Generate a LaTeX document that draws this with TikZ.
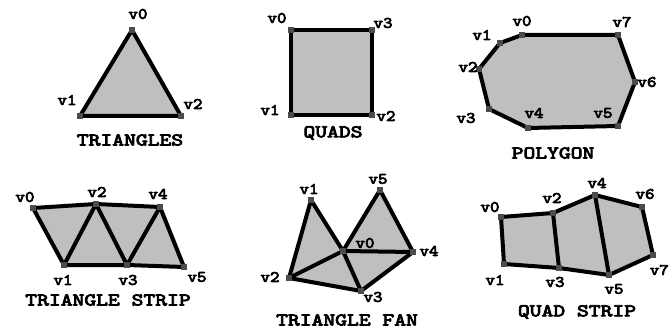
\documentclass[tikz,border=0pt]{standalone}
\usepackage{fontspec}
\usepackage{graphicx}
\newfontfamily\lmtb{lmmono10-regular.otf}[FakeBold=4]
\newcommand{\vl}[1]{\scalebox{1.13}[1]{\lmtb\fontsize{16}{16}\selectfont #1}}
\newcommand{\tl}[1]{\scalebox{1.25}[1]{\lmtb\fontsize{18}{18}\selectfont #1}}
\begin{document}
\begin{tikzpicture}[x=1pt,y=-1pt,
  face/.style={fill=gray!50},
  edge/.style={draw=black,line width=4pt,line join=round},
  vtx/.style={fill=black!70,inner sep=0pt,minimum size=6pt,draw=none,rectangle},
  vlab/.style={inner sep=0pt},
  title/.style={inner sep=0pt}]
\useasboundingbox[fill=white] (0,0) rectangle (669,331);
% ---------- TRIANGLES
\coordinate (a0) at (132,30); \coordinate (a1) at (80,116); \coordinate (a2) at (181,116);
\fill[face] (a0) -- (a1) -- (a2) -- cycle;
\draw[edge] (a0) -- (a1) -- (a2) -- cycle;
\foreach \i in {0,1,2} \node[vtx] (a\i m) at (a\i) {};
\node[vlab] (la0) at (138,14) {\vl{v0}};
\node[vlab] (la1) at (67,100) {\vl{v1}};
\node[vlab] (la2) at (193,104) {\vl{v2}};
\node[title] (ta) at (130,140) {\tl{TRIANGLES}};
% ---------- QUADS
\coordinate (b0) at (291,30); \coordinate (b1) at (291,115); \coordinate (b2) at (372,115); \coordinate (b3) at (372,30);
\fill[face] (b0) -- (b1) -- (b2) -- (b3) -- cycle;
\draw[edge] (b0) -- (b1) -- (b2) -- (b3) -- cycle;
\foreach \i in {0,...,3} \node[vtx] (b\i m) at (b\i) {};
\node[vlab] (lb0) at (277,18) {\vl{v0}};
\node[vlab] (lb1) at (270,110) {\vl{v1}};
\node[vlab] (lb2) at (386,116) {\vl{v2}};
\node[vlab] (lb3) at (383,23) {\vl{v3}};
\node[title] (tb) at (333,133) {\tl{QUADS}};
% ---------- POLYGON
\coordinate (c0) at (522,35); \coordinate (c1) at (500,43); \coordinate (c2) at (479,69);
\coordinate (c3) at (489,109); \coordinate (c4) at (528,128); \coordinate (c5) at (618,126);
\coordinate (c6) at (635,82); \coordinate (c7) at (618,35);
\fill[face] (c0) -- (c1) -- (c2) -- (c3) -- (c4) -- (c5) -- (c6) -- (c7) -- cycle;
\draw[edge] (c0) -- (c1) -- (c2) -- (c3) -- (c4) -- (c5) -- (c6) -- (c7) -- cycle;
\foreach \i in {0,...,7} \node[vtx] (c\i m) at (c\i) {};
\node[vlab] (lc0) at (522,21) {\vl{v0}};
\node[vlab] (lc1) at (482,35) {\vl{v1}};
\node[vlab] (lc2) at (468,67) {\vl{v2}};
\node[vlab] (lc3) at (466,118) {\vl{v3}};
\node[vlab] (lc4) at (534,113) {\vl{v4}};
\node[vlab] (lc5) at (603,113) {\vl{v5}};
\node[vlab] (lc6) at (647,82) {\vl{v6}};
\node[vlab] (lc7) at (622,22) {\vl{v7}};
\node[title] (tc) at (553,153) {\tl{POLYGON}};
% ---------- TRIANGLE STRIP
\coordinate (d0) at (33,208); \coordinate (d1) at (64,265); \coordinate (d2) at (96,204);
\coordinate (d3) at (127,265); \coordinate (d4) at (160,207); \coordinate (d5) at (184,267);
\fill[face] (d0) -- (d2) -- (d4) -- (d5) -- (d3) -- (d1) -- cycle;
\draw[edge] (d0) -- (d2) -- (d4) -- (d5) -- (d3) -- (d1) -- cycle;
\draw[edge] (d1) -- (d2) -- (d3) -- (d4);
\foreach \i in {0,...,5} \node[vtx] (d\i m) at (d\i) {};
\node[vlab] (ld0) at (25,197) {\vl{v0}};
\node[vlab] (ld1) at (63,280) {\vl{v1}};
\node[vlab] (ld2) at (97,192) {\vl{v2}};
\node[vlab] (ld3) at (128,280) {\vl{v3}};
\node[vlab] (ld4) at (158,194) {\vl{v4}};
\node[vlab] (ld5) at (197,277) {\vl{v5}};
\node[title] (td) at (108,300) {\tl{TRIANGLE STRIP}};
% ---------- TRIANGLE FAN
\coordinate (e0) at (343,251); \coordinate (e1) at (311,200); \coordinate (e2) at (289,278);
\coordinate (e3) at (361,291); \coordinate (e4) at (413,252); \coordinate (e5) at (380,190);
\fill[face] (e0) -- (e1) -- (e2) -- (e3) -- (e4) -- (e5) -- cycle;
\draw[edge] (e0) -- (e1) -- (e2) -- (e3) -- (e4) -- (e5) -- cycle;
\draw[edge] (e2) -- (e0) -- (e3);
\draw[edge] (e0) -- (e4);
\foreach \i in {0,...,5} \node[vtx] (e\i m) at (e\i) {};
\node[vlab] (le0) at (365,243) {\vl{v0}};
\node[vlab] (le1) at (309,189) {\vl{v1}};
\node[vlab] (le2) at (270,277) {\vl{v2}};
\node[vlab] (le3) at (373,297) {\vl{v3}};
\node[vlab] (le4) at (429,251) {\vl{v4}};
\node[vlab] (le5) at (378,179) {\vl{v5}};
\node[title] (te) at (347,320) {\tl{TRIANGLE FAN}};
% ---------- QUAD STRIP
\coordinate (f0) at (501,217); \coordinate (f1) at (504,264); \coordinate (f2) at (553,213);
\coordinate (f3) at (559,268); \coordinate (f4) at (595,195); \coordinate (f5) at (609,275);
\coordinate (f6) at (642,207); \coordinate (f7) at (653,255);
\fill[face] (f0) -- (f2) -- (f4) -- (f6) -- (f7) -- (f5) -- (f3) -- (f1) -- cycle;
\draw[edge] (f0) -- (f2) -- (f4) -- (f6) -- (f7) -- (f5) -- (f3) -- (f1) -- cycle;
\draw[edge] (f2) -- (f3);
\draw[edge] (f4) -- (f5);
\foreach \i in {0,...,7} \node[vtx] (f\i m) at (f\i) {};
\node[vlab] (lf0) at (490,207) {\vl{v0}};
\node[vlab] (lf1) at (495,280) {\vl{v1}};
\node[vlab] (lf2) at (552,198) {\vl{v2}};
\node[vlab] (lf3) at (555,282) {\vl{v3}};
\node[vlab] (lf4) at (597,183) {\vl{v4}};
\node[vlab] (lf5) at (614,289) {\vl{v5}};
\node[vlab] (lf6) at (645,194) {\vl{v6}};
\node[vlab,anchor=east] (lf7) at (669,270) {\vl{v7}};
\node[title] (tf) at (577,312) {\tl{QUAD STRIP}};
\end{tikzpicture}
\end{document}
